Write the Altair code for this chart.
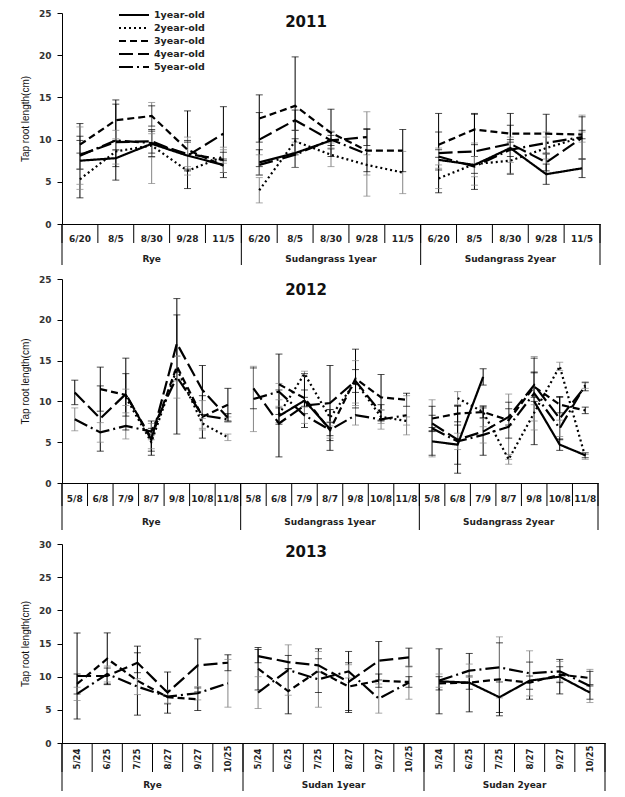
import altair as alt
import pandas as pd

SERIES = ["1year-old", "2year-old", "3year-old", "4year-old", "5year-old"]
SERIES_DASH = [[1, 0], [2, 3], [7, 4], [14, 5], [14, 4, 2, 4]]
GRAY_ERR_SERIES = ["2year-old", "5year-old"]

# ---------------- 2011 ----------------
GROUPS_2011 = ["Rye", "Sudangrass 1year", "Sudangrass 2year"]
DATES_2011 = ["6/20", "8/5", "8/30", "9/28", "11/5"]
MEAN_2011 = {
    "1year-old": [7.5, 7.8, 9.5, 8.1, 7.0, 7.3, 8.4, 9.9, None, None, 7.6, 7.0, 9.0, 5.9, 6.6],
    "2year-old": [5.3, 8.6, 9.3, 6.3, 8.0, 4.0, 9.8, 8.2, 7.0, 6.1, 5.4, 7.1, 7.5, 9.0, 10.3],
    "3year-old": [9.4, 12.3, 12.8, 8.8, 6.9, 12.5, 14.0, 10.8, 8.7, 8.7, 9.4, 11.2, 10.7, 10.7, 10.6],
    "4year-old": [8.2, 9.7, 9.8, 8.1, 10.7, 10.0, 12.3, 9.9, 10.3, None, 8.4, 8.6, 9.5, 7.3, 10.2],
    "5year-old": [8.1, 9.9, 9.6, 8.3, 7.6, 7.0, 8.2, 10.0, 8.3, None, 8.0, 6.8, 8.8, 9.6, 10.3],
}
SD_2011 = {
    "1year-old": [4.4, 1.0, 1.5, 1.8, 1.5, 1.5, 1.7, 1.0, None, None, 1.2, 1.0, 1.0, 1.2, 1.1],
    "2year-old": [1.2, 1.5, 1.4, 0.5, 0.8, 1.5, 1.3, 1.4, 1.2, 2.5, 1.2, 2.5, 1.5, 1.3, 0.6],
    "3year-old": [1.0, 2.4, 1.2, 4.6, 0.8, 2.8, 5.8, 2.8, 2.5, 2.5, 1.5, 1.8, 1.0, 2.3, 0.5],
    "4year-old": [1.7, 4.5, 1.4, 1.6, 3.2, 3.2, 1.2, 0.6, 1.0, None, 4.7, 4.5, 3.6, 1.0, 2.5],
    "5year-old": [3.4, 1.2, 4.8, 2.0, 1.5, 1.2, 1.5, 1.0, 5.0, None, 1.0, 1.2, 1.5, 1.3, 2.6],
}

# ---------------- 2012 ----------------
GROUPS_2012 = ["Rye", "Sudangrass 1year", "Sudangrass 2year"]
DATES_2012 = ["5/8", "6/8", "7/9", "8/7", "9/8", "10/8", "11/8"]
MEAN_2012 = {
    "1year-old": [None, None, None, None, None, None, None,
                  None, 8.2, 10.1, 6.6, None, None, None,
                  5.1, 4.7, 13.0, None, 10.0, 4.7, 3.4],
    "2year-old": [None, None, 10.5, 5.0, 14.0, 7.3, 5.6,
                  None, 8.4, 13.4, 8.0, 12.4, 8.1, 7.6,
                  None, 10.4, 8.7, 2.9, 8.6, 14.3, 3.2],
    "3year-old": [None, 11.5, 10.8, 5.5, 14.3, 8.1, 9.6,
                  None, 12.1, 10.4, 6.5, 12.8, 10.5, 10.2,
                  7.9, 8.5, 8.7, 7.7, 11.8, 9.6, 8.9],
    "4year-old": [11.1, 7.9, 10.9, 5.3, 17.1, 11.4, 8.0,
                  11.6, 7.3, 9.5, 9.8, 12.5, 8.6, None,
                  7.3, 5.3, 6.3, 8.1, 12.0, 7.9, 11.8],
    "5year-old": [7.8, 6.2, 7.0, 6.3, 13.0, 8.3, 7.8,
                  10.3, 11.2, 8.3, 6.5, 8.3, 7.8, 8.3,
                  6.7, 5.1, 5.9, 6.9, 11.0, 6.7, 12.0],
}
SD_2012 = {
    "1year-old": [None, None, None, None, None, None, None,
                  None, 1.0, 3.3, 0.8, None, None, None,
                  1.7, 2.4, 1.0, None, 5.3, 0.7, 0.3],
    "2year-old": [None, None, 1.0, 0.8, 1.5, 0.6, 0.4,
                  None, 1.0, 0.3, 1.0, 2.6, 0.8, 0.5,
                  None, 0.8, 0.8, 0.6, 1.0, 0.5, 0.3],
    "3year-old": [None, 2.7, 2.6, 2.1, 8.3, 2.6, 2.0,
                  None, 3.7, 1.0, 2.5, 3.6, 2.8, 0.8,
                  1.5, 1.0, 0.7, 2.2, 1.8, 1.0, 0.4],
    "4year-old": [1.5, 4.0, 4.4, 1.4, 3.5, 3.0, 0.5,
                  2.5, 4.1, 1.0, 4.6, 1.4, 1.0, None,
                  1.0, 4.1, 2.9, 1.0, 1.5, 2.6, 0.5],
    "5year-old": [1.4, 1.2, 1.6, 1.0, 2.6, 1.8, 0.3,
                  4.0, 1.0, 1.0, 1.0, 1.2, 1.2, 2.4,
                  3.5, 1.0, 1.0, 4.0, 4.5, 1.0, 0.4],
}

# ---------------- 2013 ----------------
GROUPS_2013 = ["Rye", "Sudan 1year", "Sudan 2year"]
DATES_2013 = ["5/24", "6/25", "7/25", "8/27", "9/27", "10/25"]
MEAN_2013 = {
    "1year-old": [None, None, None, None, None, None,
                  None, None, None, None, None, None,
                  9.3, 9.1, 6.9, 9.4, 10.0, 7.6],
    "2year-old": [None, None, None, None, None, None,
                  None, None, None, None, None, None,
                  None, None, None, None, None, None],
    "3year-old": [8.9, 12.7, 9.4, 6.9, 6.6, None,
                  11.2, 7.8, 10.9, 8.5, 9.4, 9.2,
                  9.0, 9.1, 9.6, 9.1, 10.3, 9.8],
    "4year-old": [10.1, 10.1, 12.1, 7.6, 11.7, 12.1,
                  13.1, 12.2, 11.7, 9.2, 12.4, 12.9,
                  None, None, None, None, None, None],
    "5year-old": [7.4, 10.4, 8.5, 7.0, 7.5, 9.0,
                  7.6, 11.0, 9.6, 10.8, 6.7, 9.1,
                  9.4, 10.9, 11.4, 10.5, 10.8, 8.6],
}
SD_2013 = {
    "1year-old": [None, None, None, None, None, None,
                  None, None, None, None, None, None,
                  4.9, 4.4, 2.3, 2.8, 2.6, 1.0],
    "2year-old": [None, None, None, None, None, None,
                  None, None, None, None, None, None,
                  None, None, None, None, None, None],
    "3year-old": [1.5, 3.9, 5.2, 1.0, 1.7, None,
                  3.2, 3.4, 3.3, 3.6, 1.0, 0.8,
                  1.0, 1.0, 5.5, 1.0, 1.2, 1.0],
    "4year-old": [6.5, 1.2, 1.5, 3.1, 4.0, 1.2,
                  1.0, 1.0, 1.0, 4.6, 2.9, 1.4,
                  None, None, None, None, None, None],
    "5year-old": [1.0, 1.2, 1.2, 1.0, 1.0, 3.6,
                  2.4, 3.8, 4.2, 1.0, 2.2, 2.5,
                  1.0, 1.0, 4.6, 3.4, 1.5, 2.5],
}

FONT = "DejaVu Sans"
TITLE_FONT = "Liberation Sans Narrow, Liberation Sans, Arial, sans-serif"


def make_panel(year, groups, dates, means, sds, ymax, width, height,
               date_row, group_row, date_label_dy, group_label_dy, title_dy,
               date_angle, date_font_size, legend):
    nd = len(dates)
    n = nd * len(groups)
    pts, errs = [], []
    for s in SERIES:
        seg = 0
        for i in range(n):
            if i % nd == 0:
                seg += 1
            m = means[s][i]
            if m is None:
                seg += 1
                continue
            pts.append({"series": s, "idx": i, "val": m, "seg": f"{s}-{seg}"})
            sd = sds[s][i]
            if sd is not None:
                errs.append({"series": s, "idx": i, "lo": m - sd, "hi": m + sd,
                             "ecol": "#858585" if s in GRAY_ERR_SERIES else "#000000"})
    pts = pd.DataFrame(pts)
    errs = pd.DataFrame(errs)

    xs = alt.Scale(domain=[-0.5, n - 0.5], nice=False, zero=False)
    xax = alt.Axis(labels=False, ticks=False, title=None, grid=False,
                   domainColor="black", domainWidth=1)
    X = alt.X("idx:Q", scale=xs, axis=xax)
    ys = alt.Scale(domain=[0, ymax], nice=False, zero=True)
    yax = alt.Axis(values=list(range(0, ymax + 1, 5)), title="Tap root length(cm)",
                   grid=False, domainColor="black", tickColor="black", tickSize=5,
                   labelFont=FONT, labelFontSize=9, labelFontWeight="bold",
                   labelColor="#333333", labelPadding=6,
                   titleFont=TITLE_FONT, titleFontSize=10,
                   titleFontWeight="normal", titleColor="#111111", titlePadding=8)

    err_rule = alt.Chart(errs).mark_rule(strokeWidth=1).encode(
        X, alt.Y("lo:Q", scale=ys, axis=yax), alt.Y2("hi:Q"),
        alt.Color("ecol:N", scale=None))
    caps = alt.Chart(errs).transform_fold(["lo", "hi"], as_=["end", "v"]).mark_tick(
        orient="horizontal", size=7, thickness=1).encode(
        X, alt.Y("v:Q", scale=ys, axis=yax), alt.Color("ecol:N", scale=None))
    lines = alt.Chart(pts).mark_line(color="black", strokeWidth=2.2).encode(
        X, alt.Y("val:Q", scale=ys, axis=yax),
        alt.StrokeDash("series:N", scale=alt.Scale(domain=SERIES, range=SERIES_DASH),
                       legend=legend),
        alt.Detail("seg:N"))

    seps = pd.DataFrame({"idx": [k - 0.5 for k in range(n + 1)]})
    gseps = pd.DataFrame({"idx": [k - 0.5 for k in range(0, n + 1, nd)]})
    sep_date = alt.Chart(seps).mark_rule(color="black", strokeWidth=1).encode(
        X, y=alt.value(height), y2=alt.value(height + date_row))
    sep_group = alt.Chart(gseps).mark_rule(color="black", strokeWidth=1).encode(
        X, y=alt.value(height), y2=alt.value(height + group_row))

    dl = pd.DataFrame({"idx": list(range(n)), "label": dates * len(groups)})
    date_text = alt.Chart(dl).mark_text(
        font=FONT, fontSize=date_font_size, fontWeight="bold", color="#222222",
        angle=date_angle, baseline="middle", align="center").encode(
        X, y=alt.value(height + date_label_dy), text="label:N")
    gl = pd.DataFrame({"idx": [g * nd + (nd - 1) / 2 for g in range(len(groups))],
                       "label": groups})
    group_text = alt.Chart(gl).mark_text(
        font=FONT, fontSize=9, fontWeight="bold", color="#222222",
        baseline="middle", align="center").encode(
        X, y=alt.value(height + group_label_dy), text="label:N")
    tdf = pd.DataFrame({"label": [year]})
    title = alt.Chart(tdf).mark_text(
        font=FONT, fontSize=15, fontWeight="bold", color="#111111",
        baseline="middle", align="center").encode(
        x=alt.value(244), y=alt.value(title_dy), text="label:N")

    return alt.layer(err_rule, caps, lines, sep_date, sep_group, date_text,
                     group_text, title).properties(width=width, height=height)


legend1 = alt.Legend(orient="none", legendX=66, legendY=-4, title=None,
                     symbolType="M-3,0H3", symbolSize=100, symbolStrokeWidth=2,
                     symbolStrokeColor="black", labelOffset=14, rowPadding=2,
                     labelFont=FONT, labelFontSize=9.5, labelFontWeight="bold",
                     labelColor="#222222", padding=0)

p1 = make_panel("2011", GROUPS_2011, DATES_2011, MEAN_2011, SD_2011, 25, 538, 211,
                19, 41, 15, 35, 9, 0, 9, legend1)
p2 = make_panel("2012", GROUPS_2012, DATES_2012, MEAN_2012, SD_2012, 25, 536, 204,
                23, 47, 16, 39, 11, 0, 9, None)
p3 = make_panel("2013", GROUPS_2013, DATES_2013, MEAN_2013, SD_2013, 30, 543, 199,
                29, 48, 16, 42, 8, 270, 8.5, None)

chart = alt.vconcat(p1, p2, p3, spacing=9).resolve_scale(
    strokeDash="independent").configure_view(stroke=None).properties(
    padding={"left": 12, "top": 1, "right": 5, "bottom": 2})

chart.save("out.html", embed_options={"renderer": "svg", "actions": False})
